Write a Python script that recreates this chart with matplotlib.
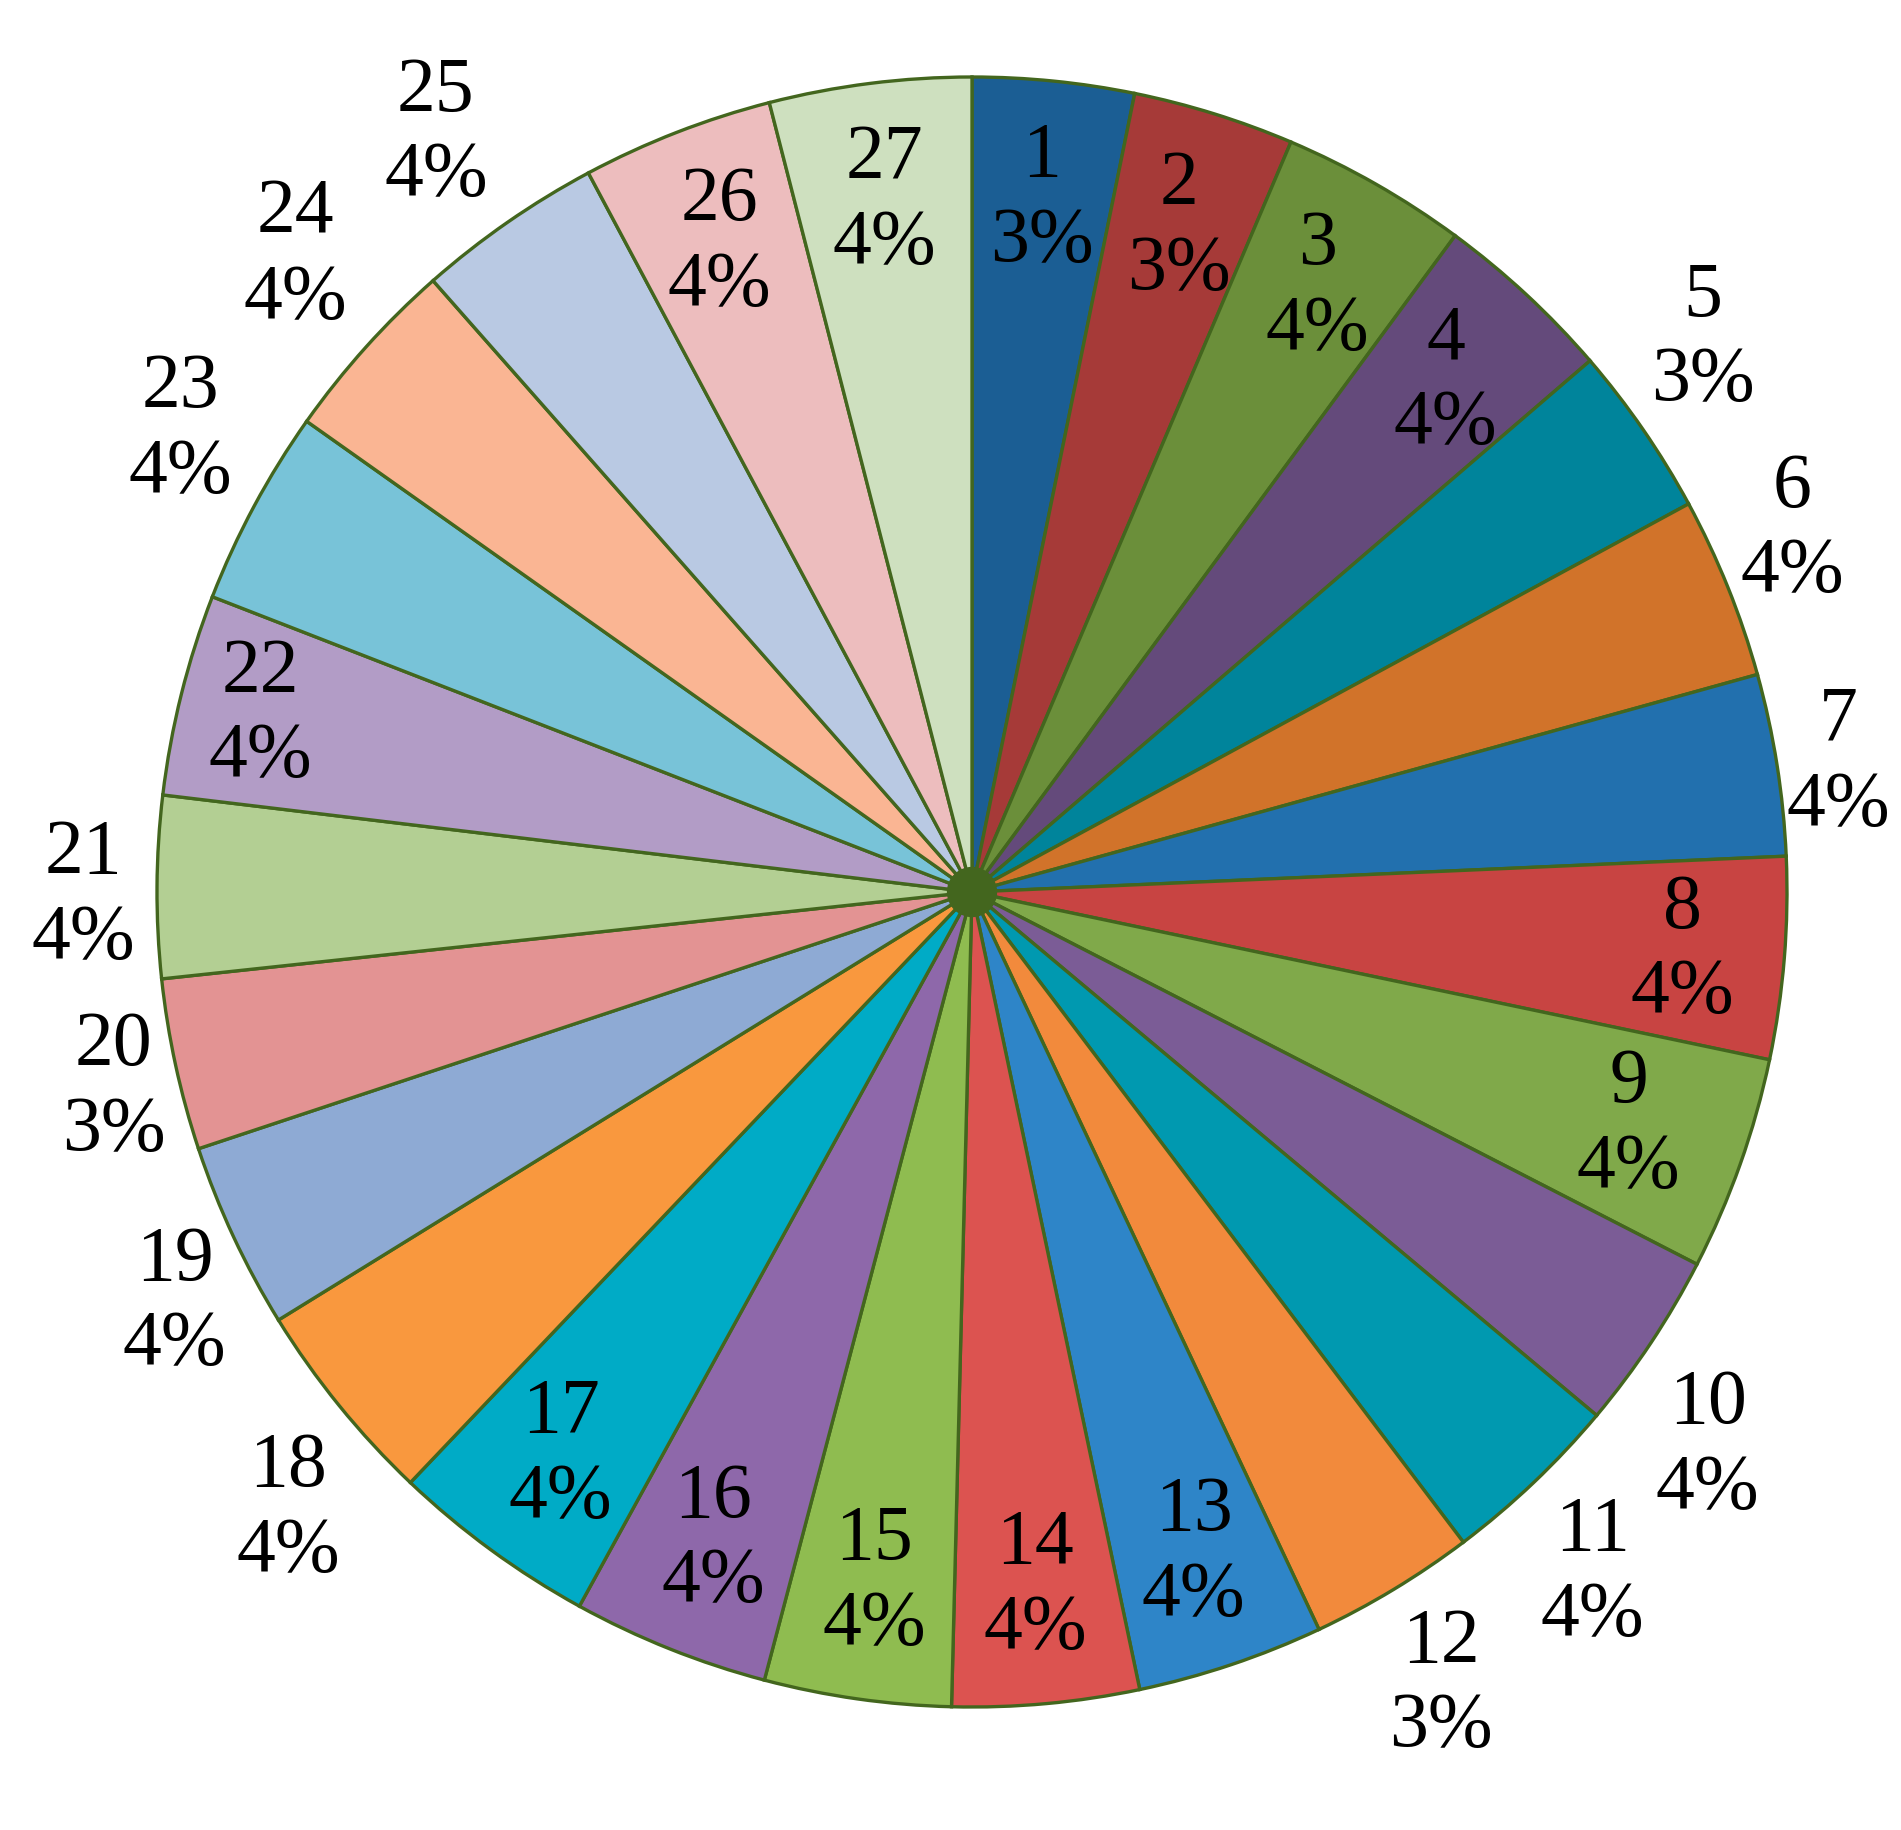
import numpy as np
import matplotlib
matplotlib.use('Agg')
import matplotlib.pyplot as plt

# --- Data (share of each item, percent) ---
items = [str(i) for i in range(1, 28)]
shares = [3.2, 3.2, 3.7, 3.6, 3.4, 3.6, 3.6, 4.0, 4.25, 3.55,
          3.6, 3.3, 3.7, 3.7, 3.7, 3.9, 4.1, 4.1, 3.7, 3.4,
          3.6, 4.0, 3.9, 3.7, 3.7, 3.8, 4.0]
colors = ['#1b5e94', '#a63a38', '#6b8f3a', '#644a7b', '#00849b', '#d1732a',
          '#2270ae', '#c84442', '#80a94a', '#7b5c96', '#0099b0', '#f28a3c',
          '#2e85c8', '#dc5350', '#8fbc50', '#8e68aa', '#00abc6', '#f9983e',
          '#8eaad4', '#e39393', '#b3cf93', '#b29cc6', '#78c3d8', '#fab593',
          '#b9c9e3', '#edbdbe', '#cee0bf']

# label layout: (distance in radii, clockwise nudge in degrees); default is inside
label_pos = {'5': (1.125, -2.6), '6': (1.10, -1.9), '7': (1.075, 0.5),
             '8': (0.875, 0), '10': (1.13, 3.4), '11': (1.13, 1.2),
             '12': (1.13, 0.5), '18': (1.13, -3.0), '19': (1.10, -2.2),
             '20': (1.08, -0.6), '21': (1.09, -0.6), '22': (0.9, 0),
             '23': (1.125, 2.0), '24': (1.14, 1.3), '25': (1.14, -0.5)}
INNER = (0.855, 0)

EDGE = '#43661e'
FONT = ['Liberation Serif', 'DejaVu Serif']

fig = plt.figure(figsize=(19.01, 18.31), dpi=100)
ax = fig.add_axes([0, 0, 1, 1])
ax.axis('off')

wedges, _ = ax.pie(shares, colors=colors, startangle=90, counterclock=False,
                   wedgeprops=dict(edgecolor=EDGE, linewidth=2.4))
ax.add_patch(plt.Circle((0, 0), 0.03, color=EDGE, zorder=5))

total = sum(shares)
for w, name, val in zip(wedges, items, shares):
    r, nudge = label_pos.get(name, INNER)
    ang = np.deg2rad((w.theta1 + w.theta2) / 2 - nudge)
    txt = f"{name}\n{round(val / total * 100):d}%"
    ax.text(r * np.cos(ang), r * np.sin(ang), txt, ha='center', va='center',
            fontsize=56, family=FONT, linespacing=1.24, color='black')

# place pie: centre at (972, 893) px, radius 815 px
ax.set_xlim(-972 / 815, (1901 - 972) / 815)
ax.set_ylim(-(1831 - 893) / 815, 893 / 815)
ax.set_aspect('auto')

plt.savefig('out.png', dpi=100, facecolor='white')
